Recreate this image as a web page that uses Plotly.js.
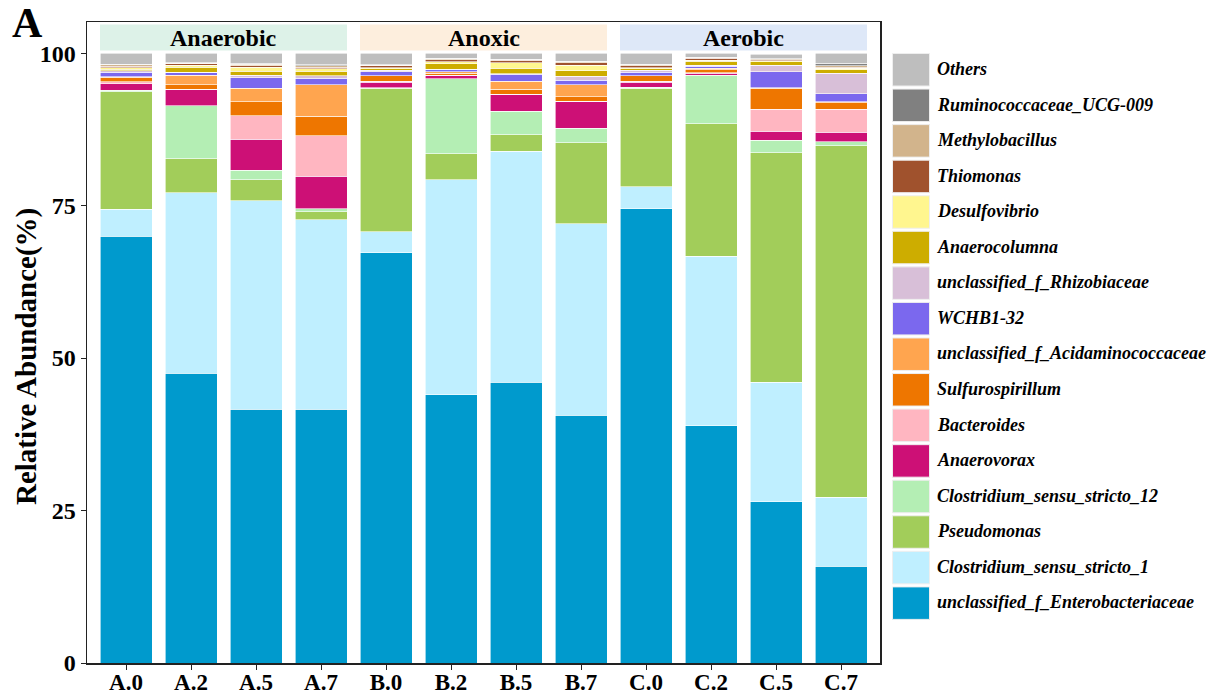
<!DOCTYPE html>
<html>
<head>
<meta charset="utf-8">
<script src="https://cdn.plot.ly/plotly-3.0.1.min.js"></script>
<style>html,body{margin:0;padding:0;background:#fff;}#chart{width:1220px;height:697px;}</style>
</head>
<body>
<div id="chart"></div>
<script>
// ---- Data (relative abundance, %) ----
const samples = ["A.0","A.2","A.5","A.7","B.0","B.2","B.5","B.7","C.0","C.2","C.5","C.7"];
const groups = ["Anaerobic","Anoxic","Aerobic"];

const Enterobacteriaceae = [70.0, 47.5, 41.6, 41.6, 67.3, 44.0, 46.0, 40.6, 74.5, 38.9, 26.4, 15.9];
const Clostridium_1      = [4.4, 29.6, 34.2, 31.1, 3.4, 35.2, 37.9, 31.4, 3.6, 27.8, 19.6, 11.3];
const Pseudomonas        = [19.3, 5.6, 3.4, 1.3, 23.5, 4.3, 2.7, 13.3, 16.1, 21.7, 37.7, 57.6];
const Clostridium_12     = [0.2, 8.7, 1.6, 0.45, 0.1, 12.3, 3.9, 2.35, 0.2, 8.0, 2.0, 0.7];
const Anaerovorax        = [1.1, 2.6, 5.1, 5.4, 0.9, 0.5, 2.7, 4.35, 0.8, 0.3, 1.5, 1.5];
const Bacteroides        = [0.27, 0.1, 3.8, 6.6, 0.15, 0.05, 0.05, 0.1, 0.15, 0.05, 3.6, 3.8];
const Sulfurospirillum   = [0.77, 0.7, 2.35, 3.2, 0.9, 0.35, 0.8, 0.75, 0.9, 0.55, 3.4, 1.1];
const Acidaminococcaceae = [0.1, 1.6, 2.2, 5.2, 0.05, 0.25, 1.35, 2.0, 0.05, 0.25, 0.15, 0.1];
const WCHB1_32           = [0.7, 0.35, 1.7, 1.0, 0.65, 0.3, 1.1, 0.7, 0.55, 0.3, 2.6, 1.3];
const Rhizobiaceae       = [0.27, 0.1, 0.4, 0.45, 0.25, 0.1, 0.15, 0.65, 0.35, 0.2, 1.1, 3.4];
const Anaerocolumna      = [0.25, 0.8, 0.7, 0.7, 0.2, 0.9, 0.9, 0.9, 0.2, 0.65, 0.55, 0.6];
const Desulfovibrio      = [0.2, 0.4, 0.6, 0.4, 0.2, 0.3, 0.9, 0.9, 0.2, 0.15, 0.15, 0.25];
const Thiomonas          = [0.3, 0.2, 0.3, 0.3, 0.3, 0.4, 0.35, 0.45, 0.35, 0.3, 0.15, 0.15];
const Methylobacillus    = [0.2, 0.1, 0.2, 0.2, 0.1, 0.1, 0.1, 0.1, 0.15, 0.1, 0.15, 0.25];
const Ruminococcaceae    = [0.1, 0.1, 0.15, 0.2, 0.1, 0.1, 0.1, 0.1, 0.1, 0.1, 0.05, 0.4];
const Others             = [1.84, 1.55, 1.7, 1.9, 1.9, 0.85, 1.0, 1.35, 1.8, 0.65, 0.7, 1.65];

// stacking order (bottom -> top)
const taxa = [
  {name:"unclassified_f_Enterobacteriaceae", v:Enterobacteriaceae, c:"#009ACD"},
  {name:"Clostridium_sensu_stricto_1", v:Clostridium_1, c:"#BFEFFF"},
  {name:"Pseudomonas", v:Pseudomonas, c:"#A2CD5A"},
  {name:"Clostridium_sensu_stricto_12", v:Clostridium_12, c:"#B4EEB4"},
  {name:"Anaerovorax", v:Anaerovorax, c:"#CD1076"},
  {name:"Bacteroides", v:Bacteroides, c:"#FFB6C1"},
  {name:"Sulfurospirillum", v:Sulfurospirillum, c:"#EE7600"},
  {name:"unclassified_f_Acidaminococcaceae", v:Acidaminococcaceae, c:"#FFA54F"},
  {name:"WCHB1-32", v:WCHB1_32, c:"#7B68EE"},
  {name:"unclassified_f_Rhizobiaceae", v:Rhizobiaceae, c:"#D8BFD8"},
  {name:"Anaerocolumna", v:Anaerocolumna, c:"#CDAD00"},
  {name:"Desulfovibrio", v:Desulfovibrio, c:"#FFF68F"},
  {name:"Thiomonas", v:Thiomonas, c:"#A0522D"},
  {name:"Methylobacillus", v:Methylobacillus, c:"#D2B48C"},
  {name:"Ruminococcaceae_UCG-009", v:Ruminococcaceae, c:"#808080"},
  {name:"Others", v:Others, c:"#BEBEBE"}
];

const FONT = "Liberation Serif, Times New Roman, serif";

const traces = taxa.map(t => ({
  type: "bar", x: samples, y: t.v, name: t.name,
  marker: {color: t.c, line: {color: "#ffffff", width: 0.6}},
  hoverinfo: "x+y+name"
}));

// layout geometry in pixels
const W = 1220, H = 697;
const L = 87, R = 880, T = 22, B = 663;
const px = x => (x - L) / (R - L);
const py = y => (B - y) / (B - T);

const shapes = [];
const annotations = [];

// facet strips
const stripCols = ["#DDF2E8", "#FDEEDD", "#DEE8F8"];
groups.forEach((g, i) => {
  const x0 = i * 4 - 0.4, x1 = i * 4 + 3.4;
  shapes.push({type:"rect", xref:"x", yref:"paper", x0:x0, x1:x1, y0:py(50.5), y1:py(24.5),
    fillcolor: stripCols[i], line:{width:0}, layer:"below"});
  annotations.push({xref:"x", yref:"paper", x:i * 4 + 1.5, y:py(38), text:g, showarrow:false,
    font:{family:FONT, size:24, color:"#000", weight:"bold"}, xanchor:"center", yanchor:"middle"});
});

// manual legend (top -> bottom = reverse stacking)
const legendTaxa = taxa.slice().reverse();
legendTaxa.forEach((t, i) => {
  const top = 53.5 + i * 35.56;
  shapes.push({type:"rect", xref:"paper", yref:"paper", x0:px(892.5), x1:px(929.5),
    y0:py(top + 32.5), y1:py(top), fillcolor:t.c, line:{color:"#eeeeee", width:1}});
  annotations.push({xref:"paper", yref:"paper", x:px(935), y:py(top + 15.5), text:t.name,
    showarrow:false, xanchor:"left", yanchor:"middle",
    font:{family:FONT, size:18, color:"#000", weight:"bold", style:"italic"}});
});

// y-axis title (as rotated annotation, placed like the reference)
annotations.push({xref:"paper", yref:"paper", x:px(27), y:py(357), text:"Relative Abundance(%)",
  textangle:-90, showarrow:false, xanchor:"center", yanchor:"middle",
  font:{family:FONT, size:29, color:"#000", weight:"bold"}});

// panel label
annotations.push({xref:"paper", yref:"paper", x:px(27), y:py(23), text:"A", showarrow:false,
  xanchor:"center", yanchor:"middle", font:{family:FONT, size:42, color:"#000", weight:"bold"}});

const layout = {
  width: W, height: H,
  margin: {l: L, r: W - R, t: T, b: H - B, pad: 0},
  barmode: "stack", bargap: 0.2,
  showlegend: false,
  paper_bgcolor: "#fff", plot_bgcolor: "#fff",
  font: {family: FONT, color: "#000"},
  xaxis: {
    type: "category", categoryorder: "array", categoryarray: samples,
    range: [-0.6, 11.6], showline: true, mirror: true, linecolor: "#222", linewidth: 1.5,
    ticks: "outside", ticklen: 5, tickcolor: "#222", tickwidth: 1,
    ticklabelstandoff: -7,
    tickfont: {family: FONT, size: 23, color: "#000", weight: "bold"},
    showgrid: false, zeroline: false, fixedrange: true
  },
  yaxis: {
    range: [0, 105.1], tickvals: [0, 25, 50, 75, 100], ticktext: ["0","25","50","75","100"],
    showline: true, mirror: true, linecolor: "#222", linewidth: 1.5,
    ticks: "outside", ticklen: 5, tickcolor: "#222", tickwidth: 1,
    tickfont: {family: FONT, size: 24, color: "#000", weight: "bold"},
    showgrid: false, zeroline: false, fixedrange: true
  },
  shapes: shapes,
  annotations: annotations
};

Plotly.newPlot("chart", traces, layout, {displayModeBar: false, staticPlot: true});
</script>
</body>
</html>
